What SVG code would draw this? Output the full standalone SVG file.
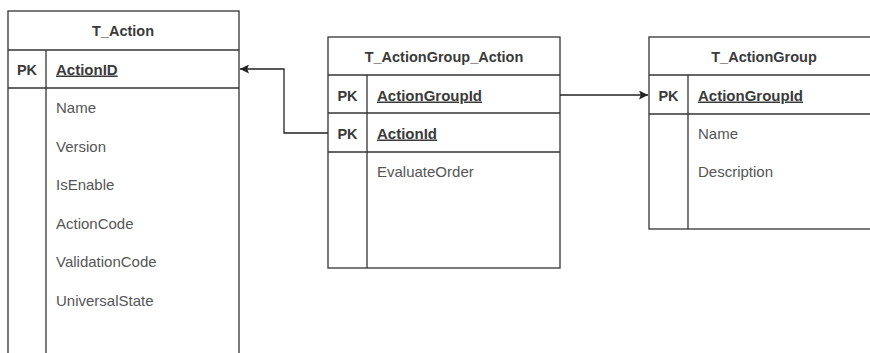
<svg xmlns="http://www.w3.org/2000/svg" width="870" height="353" viewBox="0 0 870 353">
<style>
.box{fill:#ffffff;stroke:#333333;stroke-width:1.3}
.ln{fill:none;stroke:#333333;stroke-width:1.3}
.hd{font-family:"Liberation Sans",Arial,sans-serif;font-size:14.5px;font-weight:bold;fill:#3a3a3a;text-anchor:middle}
.pk{font-family:"Liberation Sans",Arial,sans-serif;font-size:14.5px;font-weight:bold;fill:#3a3a3a;text-anchor:middle}
.key{font-family:"Liberation Sans",Arial,sans-serif;font-size:15px;font-weight:bold;fill:#3a3a3a;text-decoration:underline}
.fld{font-family:"Liberation Sans",Arial,sans-serif;font-size:15px;fill:#555555}
.conn{fill:none;stroke:#222222;stroke-width:1.3}
</style>
<defs>
<marker id="arr" viewBox="0 0 10 10" refX="10" refY="5" markerWidth="9" markerHeight="9" markerUnits="userSpaceOnUse" orient="auto">
<path d="M0,0 L10,5 L0,10 L2,5 Z" fill="#222222"/>
</marker>
</defs>
<rect width="870" height="353" fill="#ffffff"/>
<g id="T_Action">
<rect class="box" x="8" y="11" width="231" height="350"/>
<line class="ln" x1="8" y1="50" x2="239" y2="50"/>
<line class="ln" x1="8" y1="88" x2="239" y2="88"/>
<line class="ln" x1="46" y1="50" x2="46" y2="361"/>
<text class="hd" x="123" y="36">T_Action</text>
<text class="pk" x="27" y="74.5">PK</text>
<text class="key" x="56" y="74.5">ActionID</text>
<text class="fld" x="56" y="113">Name</text>
<text class="fld" x="56" y="151.5">Version</text>
<text class="fld" x="56" y="190">IsEnable</text>
<text class="fld" x="56" y="228.5">ActionCode</text>
<text class="fld" x="56" y="267">ValidationCode</text>
<text class="fld" x="56" y="306">UniversalState</text>
</g>
<g id="T_ActionGroup_Action">
<rect class="box" x="328" y="37" width="232" height="231"/>
<line class="ln" x1="328" y1="75" x2="560" y2="75"/>
<line class="ln" x1="328" y1="113" x2="560" y2="113"/>
<line class="ln" x1="328" y1="152" x2="560" y2="152"/>
<line class="ln" x1="367" y1="75" x2="367" y2="268"/>
<text class="hd" x="444" y="62">T_ActionGroup_Action</text>
<text class="pk" x="347.5" y="100.5">PK</text>
<text class="key" x="377" y="100.5">ActionGroupId</text>
<text class="pk" x="347.5" y="138.5">PK</text>
<text class="key" x="377" y="138.5">ActionId</text>
<text class="fld" x="377" y="177">EvaluateOrder</text>
</g>
<g id="T_ActionGroup">
<rect class="box" x="649" y="37" width="230" height="192"/>
<line class="ln" x1="649" y1="75" x2="879" y2="75"/>
<line class="ln" x1="649" y1="114" x2="879" y2="114"/>
<line class="ln" x1="688" y1="75" x2="688" y2="229"/>
<text class="hd" x="764" y="62">T_ActionGroup</text>
<text class="pk" x="668.5" y="100.5">PK</text>
<text class="key" x="698" y="100.5">ActionGroupId</text>
<text class="fld" x="698" y="138.5">Name</text>
<text class="fld" x="698" y="177">Description</text>
</g>
<g id="connectors">
<path class="conn" d="M328,133 L284,133 L284,69 L240,69" marker-end="url(#arr)"/>
<path class="conn" d="M560,95 L648,95" marker-end="url(#arr)"/>
</g>
</svg>
